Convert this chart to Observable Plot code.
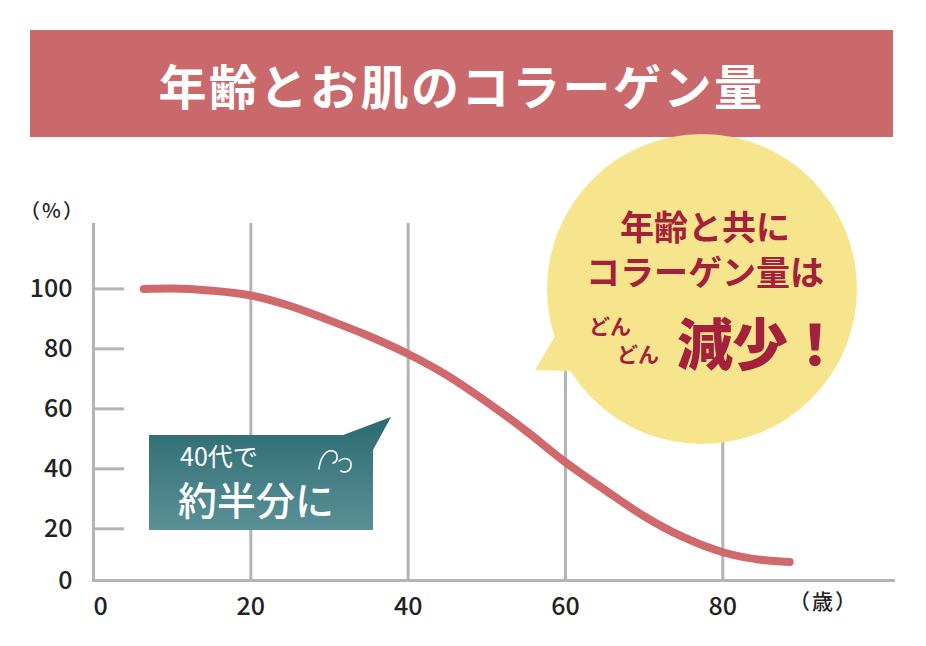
<!DOCTYPE html>
<html>
<head>
<meta charset="utf-8">
<script src="https://cdn.jsdelivr.net/npm/d3@7"></script>
<script src="https://cdn.jsdelivr.net/npm/@observablehq/plot@0.6"></script>
<style>
  html, body { margin: 0; padding: 0; background: #fff; }
  #wrap { position: relative; width: 926px; height: 646px; overflow: hidden; font-family: "Noto Sans CJK JP", "Noto Sans", sans-serif; }
  #banner { position: absolute; left: 30px; top: 30px; width: 863px; height: 107px; background: #c9696b;
    color: #fff; font-size: 48px; font-weight: 700; display: flex; align-items: center; justify-content: center; letter-spacing: 2.5px; }
  #chart { position: absolute; left: 0; top: 0; }
</style>
</head>
<body>
<div id="wrap">
  <div id="banner">年齢とお肌のコラーゲン量</div>
  <div id="chart"></div>
</div>
<script>
// Data
const ages = [6.4, 10, 15, 20, 25, 30, 35, 40, 45, 50, 55, 60, 65, 70, 75, 80, 85, 88.5];
const collagen = [100, 100.1, 99.4, 97.8, 94.3, 89.5, 84.3, 78.3, 71.1, 62.3, 52.6, 42.2, 33, 24.2, 17.2, 12.2, 9.6, 8.9];
const xTicks = [0, 20, 40, 60, 80];
const yTicks = [20, 40, 60, 80, 100];
const yZeroLabel = ["0"];
const xUnit = ["（歳）"];
const yUnit = ["（%）"];
const bubbleLines = ["年齢と共に", "コラーゲン量は"];
const bubbleSmall = ["どん", "どん"];
const bubbleBig = ["減少！"];
const calloutSmall = ["40代で"];
const calloutBig = ["約半分に"];

const data = ages.map((a, i) => ({age: a, value: collagen[i]}));
const grey = "#b4b4b4";
const ink = "#222";
const font = "\"Noto Sans CJK JP\", \"Noto Sans\", sans-serif";

const plot = Plot.plot({
  width: 926,
  height: 646,
  marginLeft: 93,
  marginRight: 33,
  marginTop: 223,
  marginBottom: 66,
  style: {background: "transparent", fontFamily: font, overflow: "visible"},
  x: {domain: [0, 101.7]},
  y: {domain: [2.77, 121.8]},
  marks: [
    Plot.ruleX(xTicks, {stroke: grey, strokeWidth: 3}),
    Plot.ruleY(yTicks, {x1: 0, x2: 3.95, stroke: grey, strokeWidth: 3}),
    Plot.frame({anchor: "bottom", stroke: grey, strokeWidth: 3}),
    Plot.axisX(xTicks.slice(1), {tickSize: 0, tickPadding: 17, fontSize: 25, fontWeight: 500, fill: ink, label: null}),
    Plot.axisX(xTicks.slice(0, 1), {tickSize: 0, tickPadding: 17, dx: 7, fontSize: 25, fontWeight: 500, fill: ink, label: null}),
    Plot.axisY(yTicks, {tickSize: 0, tickPadding: 21, fontSize: 25, fontWeight: 500, fill: ink, label: null}),
    Plot.text(yZeroLabel, {frameAnchor: "bottom-left", lineAnchor: "middle", dx: -21, textAnchor: "end", fontSize: 25, fontWeight: 500, fill: ink}),
    Plot.text(xUnit, {x: 92.8, frameAnchor: "bottom", dy: 28, textAnchor: "middle", fontSize: 21, fontWeight: 500, fill: ink}),
    Plot.text(yUnit, {frameAnchor: "top-left", dx: -41, dy: -20, textAnchor: "middle", fontSize: 20, fontWeight: 500, fill: ink}),
    Plot.line(data, {x: "age", y: "value", curve: "monotone-x", stroke: "#d0696b", strokeWidth: 8, strokeLinecap: "round", strokeLinejoin: "round"})
  ]
});
document.getElementById("chart").appendChild(plot);

// Decorative callouts (drawn under the curve, over the grid)
const svg = d3.select(plot);
svg.selectAll("g[aria-label=text] text").filter(function() { return this.textContent === "（%）" || this.textContent === "（歳）"; })
  .attr("letter-spacing", 2);
const deco = svg.insert("g", "g[aria-label=line]").attr("text-anchor", "start");
const defs = svg.append("defs");
const grad = defs.append("linearGradient").attr("id", "teal").attr("x1", 0).attr("y1", 0).attr("x2", 0).attr("y2", 1);
grad.append("stop").attr("offset", "0%").attr("stop-color", "#2c6a70");
grad.append("stop").attr("offset", "100%").attr("stop-color", "#5a9197");

// Yellow speech bubble
const yellow = "#f6e58d";
deco.append("path").attr("d", "M535,370 L560,328 L600,372 Z").attr("fill", yellow);
deco.append("circle").attr("cx", 702).attr("cy", 289).attr("r", 155).attr("fill", yellow);
const red = "#a3213a";
deco.selectAll("text.bl").data(bubbleLines).join("text")
  .attr("x", 705).attr("y", (d, i) => 240 + i * 45)
  .attr("text-anchor", "middle").attr("font-size", 34).attr("font-weight", 700)
  .attr("fill", red).attr("font-family", font).text(d => d);
deco.selectAll("text.bs").data(bubbleSmall).join("text")
  .attr("x", (d, i) => 610 + i * 28).attr("y", (d, i) => 334 + i * 28)
  .attr("text-anchor", "middle").attr("font-size", 21).attr("font-weight", 700)
  .attr("fill", red).attr("font-family", font).text(d => d);
deco.selectAll("text.bb").data(bubbleBig).join("text")
  .attr("x", 677).attr("y", 365)
  .attr("text-anchor", "start").attr("font-size", 56).attr("font-weight", 900)
  .attr("letter-spacing", -1)
  .attr("fill", red).attr("font-family", font).text(d => d);

// Teal callout
deco.append("path").attr("d", "M149,435 L343,435 L391,417 L373,450 L373,530 L149,530 Z").attr("fill", "url(#teal)");
deco.selectAll("text.cs").data(calloutSmall).join("text")
  .attr("x", 180).attr("y", 466).attr("text-anchor", "start")
  .attr("font-size", 25).attr("font-weight", 400)
  .attr("fill", "#fff").attr("font-family", font).text(d => d);
deco.selectAll("text.cb").data(calloutBig).join("text")
  .attr("x", 178).attr("y", 515).attr("text-anchor", "start")
  .attr("font-size", 39).attr("font-weight", 500)
  .attr("fill", "#fff").attr("font-family", font).text(d => d);
deco.append("path")
  .attr("d", "M319,469 C320,458 326,449 333,451 C339,453 338,462 333,463 M339,461 C345,456 352,459 351,466 C350,472 344,473 341,471")
  .attr("fill", "none").attr("stroke", "#fff").attr("stroke-width", 1.6).attr("stroke-linecap", "round");
</script>
</body>
</html>
